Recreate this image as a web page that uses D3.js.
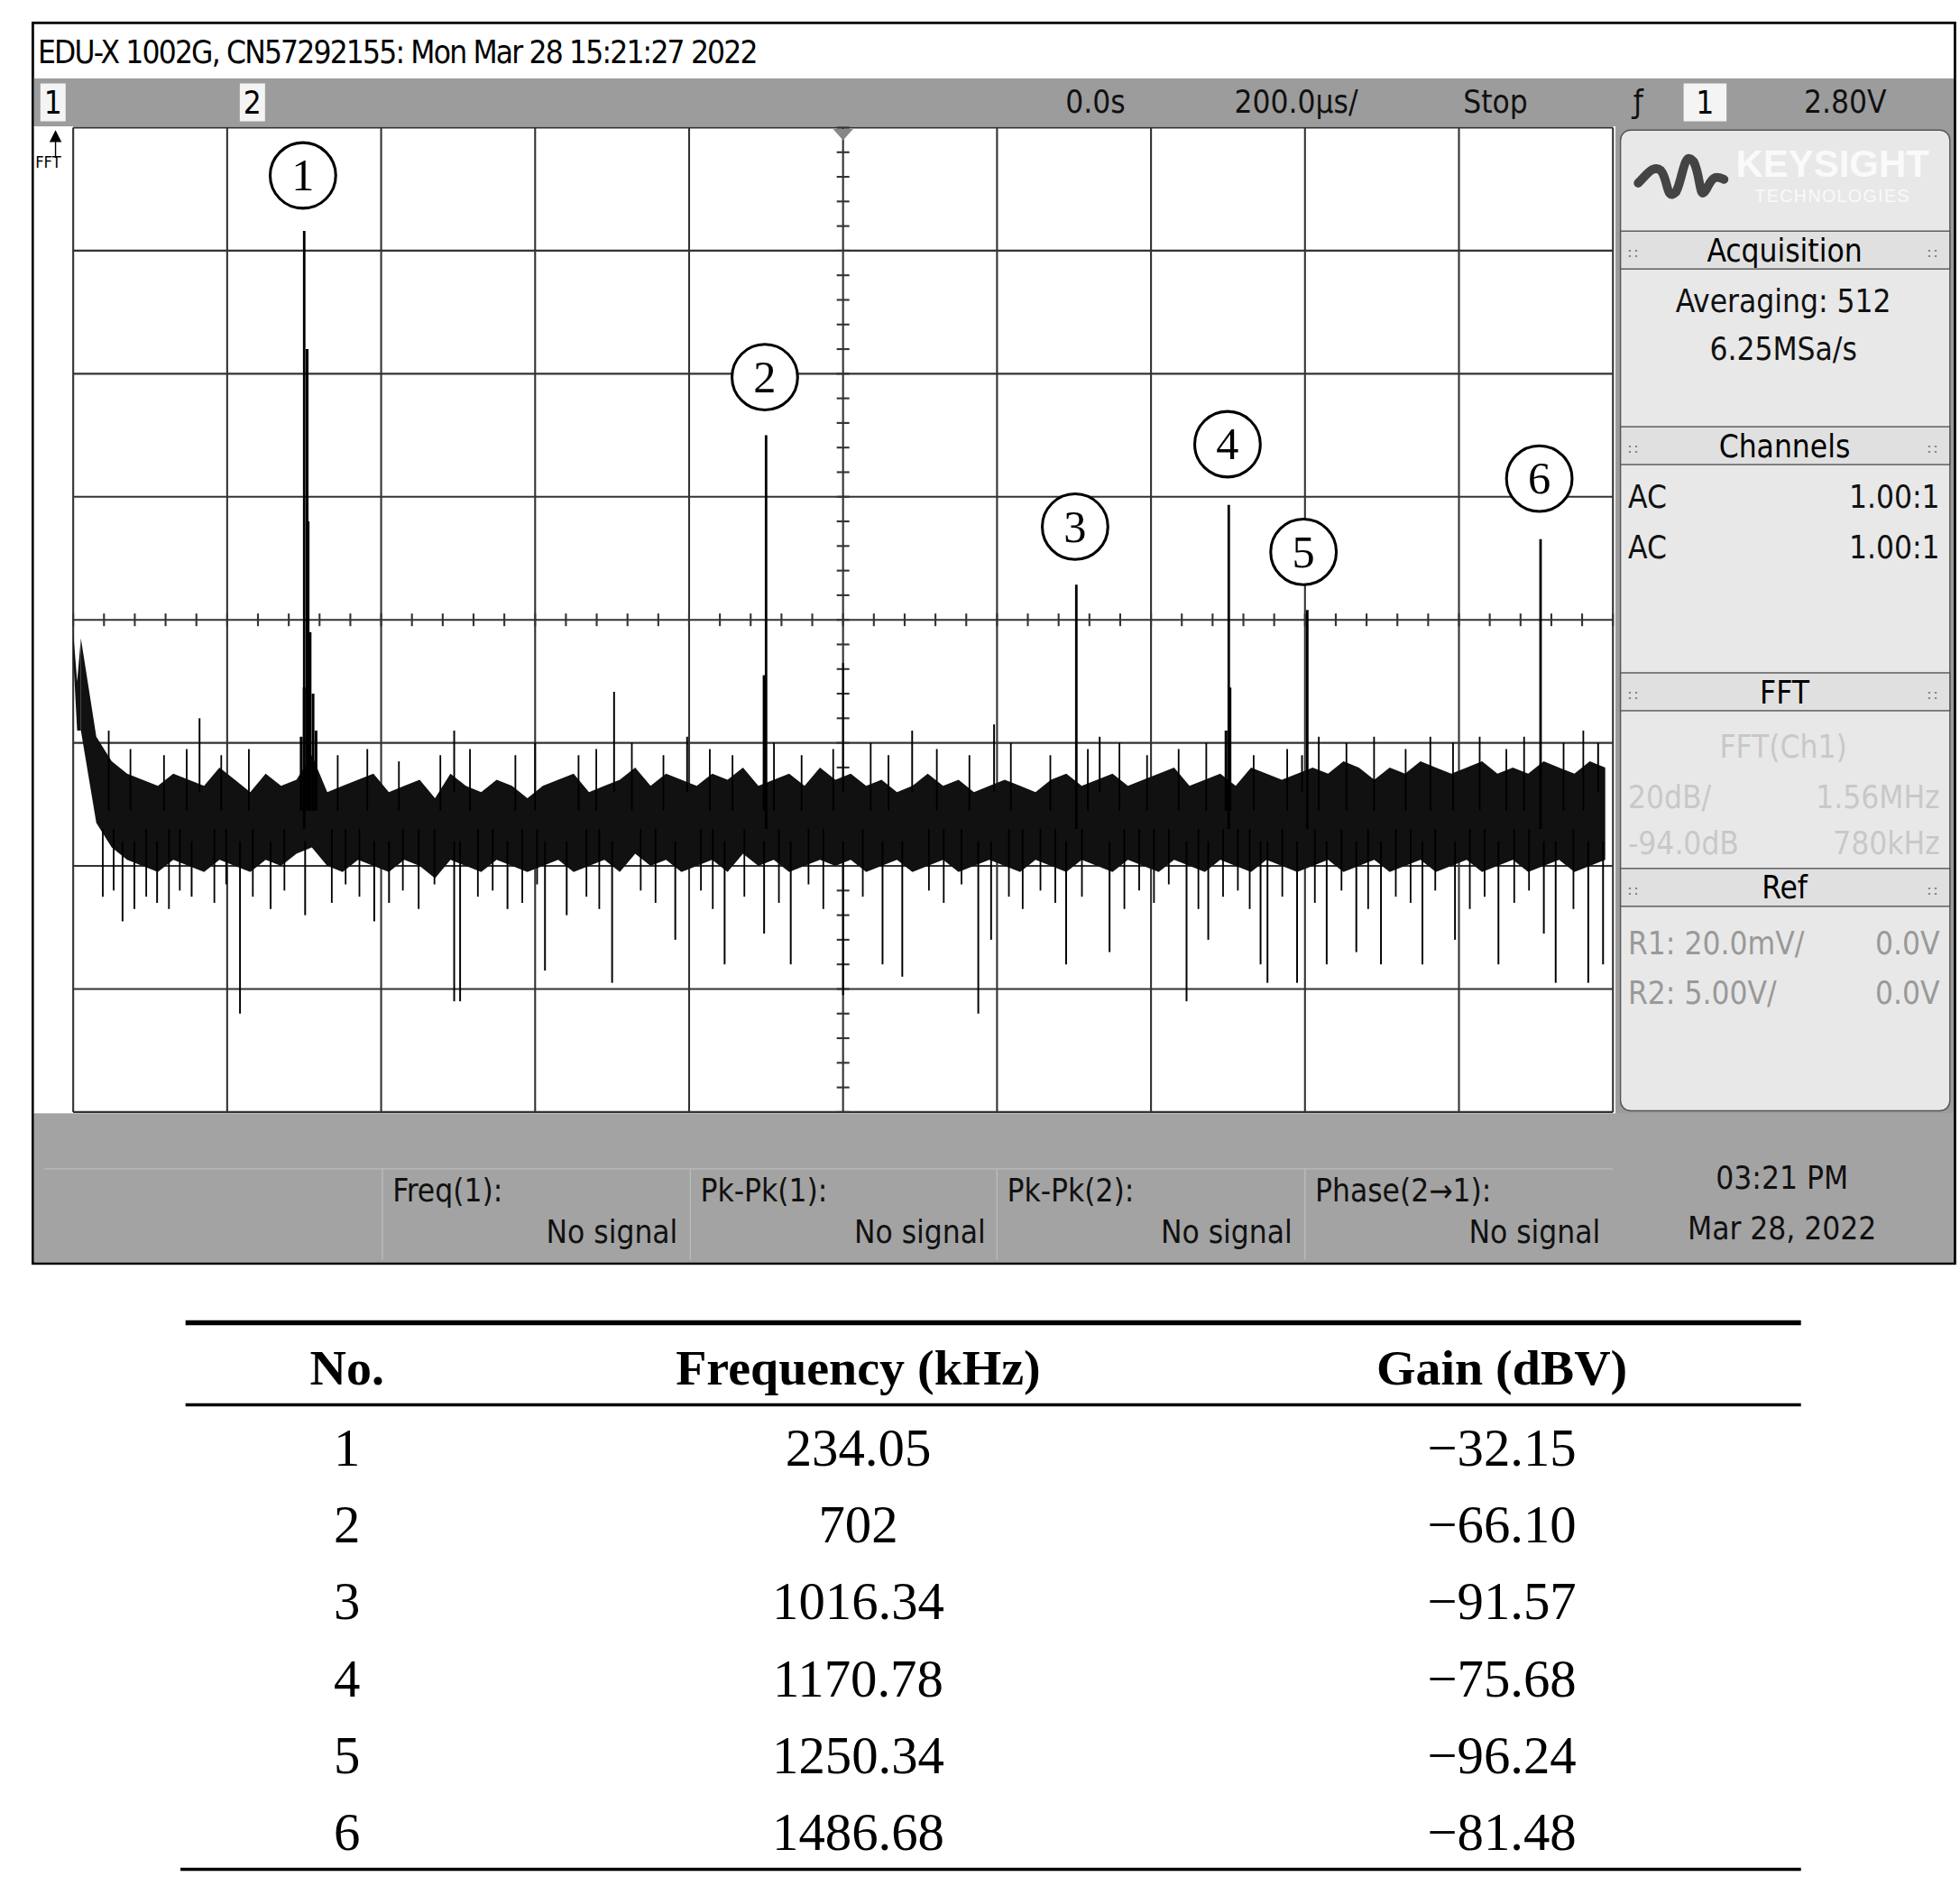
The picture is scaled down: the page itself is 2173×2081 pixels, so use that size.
<!DOCTYPE html>
<html><head><meta charset="utf-8">
<script src="https://cdn.jsdelivr.net/npm/d3@7"></script>
<style>body{margin:0;background:#fff}</style></head>
<body><svg id="c" width="2173" height="2081" viewBox="0 0 1553 1487"></svg>
<script>
// ---- data ----
const noiseHi = [-97,-113,-117,-119,-120,-121,-119,-120,-121,-118,
 -120,-122,-119,-121,-120,-116,-122,-121,-120,-119,
 -122,-121,-120,-123,-119,-121,-122,-120,-121,-123,
 -121,-120,-119,-122,-121,-120,-118,-121,-119,-120,
 -121,-119,-120,-118,-121,-120,-119,-121,-118,-120,
 -119,-121,-120,-122,-121,-119,-121,-120,-122,-121,
 -120,-121,-122,-120,-119,-121,-120,-119,-121,-120,
 -119,-118,-121,-120,-119,-121,-118,-119,-120,-119,
 -118,-119,-117,-118,-120,-118,-119,-117,-118,-119,
 -118,-117,-119,-118,-119,-117,-118,-119,-117,-118];
const noiseLo = [-112,-127,-131,-133,-134,-135,-133,-134,-135,-133,
 -134,-135,-133,-134,-132,-131,-134,-135,-133,-134,
 -135,-133,-134,-136,-133,-134,-135,-133,-134,-135,
 -134,-133,-135,-134,-133,-135,-132,-134,-133,-135,
 -134,-133,-135,-132,-134,-133,-135,-134,-133,-134,
 -133,-135,-134,-133,-135,-134,-133,-135,-134,-133,
 -134,-135,-133,-134,-135,-133,-134,-135,-133,-134,
 -135,-133,-134,-135,-133,-134,-135,-133,-134,-135,
 -134,-133,-135,-134,-133,-135,-134,-133,-135,-134,
 -133,-135,-134,-133,-135,-134,-133,-135,-134,-133];
const binKHz = 15.6;
// individual trace spikes [kHz, dB]
const spikesDown = [[50,-143],[62,-141],[85,-140],[120,-139],[169,-158],[200,-141],[235,-142],[305,-143],[320,-140],[386,-156],[392,-156],[440,-141],[478,-151],[500,-142],[546,-153],[610,-146],[660,-150],[700,-145],[727,-150],[780,-155],[820,-150],[840,-152],[917,-158],[930,-146],[1006,-150],[1050,-148],[1128,-156],[1150,-146],[1203,-150],[1210,-153],[1240,-153],[1270,-150],[1300,-148],[1325,-150],[1367,-150],[1400,-146],[1444,-150],[1490,-145],[1502,-153],[1535,-153],[1550,-150]];
const spikesUp = [[128,-110],[386,-112],[548,-105.7],[622,-113],[780,-101],[850,-112],[933,-111],[1040,-113],[1245,-116],[1545,-114]];
const fuzzDown = [[30,-139],[41,-138],[74,-139],[97,-141],[108,-138],[143,-140],[155,-137],[182,-139],[214,-138],[262,-140],[276,-137],[290,-139],[334,-138],[350,-141],[366,-137],[410,-139],[425,-138],[455,-140],[470,-137],[520,-139],[533,-141],[575,-138],[590,-140],[636,-138],[648,-141],[680,-139],[715,-140],[745,-137],[760,-141],[800,-139],[867,-138],[882,-140],[900,-137],[948,-139],[962,-141],[980,-138],[995,-140],[1022,-139],[1065,-141],[1080,-138],[1095,-140],[1110,-137],[1140,-141],[1165,-139],[1180,-138],[1192,-141],[1225,-139],[1258,-140],[1285,-138],[1312,-141],[1340,-139],[1355,-140],[1380,-138],[1415,-141],[1430,-139],[1460,-140],[1475,-138],[1520,-141]];
const fuzzUp = [[36,-112],[58,-115],[92,-116],[115,-115],[150,-116],[178,-115],[268,-116],[298,-115],[330,-117],[372,-116],[402,-115],[448,-116],[468,-114],[512,-116],[530,-115],[566,-114],[598,-116],[645,-115],[668,-116],[710,-114],[738,-116],[770,-115],[808,-114],[826,-116],[875,-115],[908,-116],[950,-114],[990,-116],[1028,-115],[1060,-114],[1088,-116],[1120,-115],[1148,-114],[1196,-116],[1230,-115],[1262,-113],[1290,-114],[1318,-113],[1350,-115],[1375,-113],[1398,-114],[1425,-113],[1452,-115],[1470,-113],[1510,-114],[1530,-112]];
const peakFreq = [234.05, 702, 1016.34, 1170.78, 1250.34, 1486.68];
const peakDraw = [-30.8, -64, -88.3, -75.3, -92.4, -80.9];
const peakGain = [-32.15, -66.10, -91.57, -75.68, -96.24, -81.48];
const skirt = [[231,-113],[234,-105],[237,-50],[238,-78],[240,-96],[243,-106],[246,-112],[700,-103],[1168,-112],[1172,-105]];
const tableNo = ["1","2","3","4","5","6"];
const tableFreq = ["234.05","702","1016.34","1170.78","1250.34","1486.68"];
const tableGain = ["\u221232.15","\u221266.10","\u221291.57","\u221275.68","\u221296.24","\u221281.48"];
const meas = [["Freq(1):","No signal"],["Pk-Pk(1):","No signal"],["Pk-Pk(2):","No signal"],["Phase(2\u21921):","No signal"]];

// ---- drawing ----
const svg = d3.select("#c");
const F = "'DejaVu Sans Condensed','Liberation Sans Narrow',sans-serif";
const S = "'Liberation Serif','Times New Roman',serif";
const x = d3.scaleLinear().domain([0,1560]).range([58,1278]);
const y = d3.scaleLinear().domain([-14,-174]).range([101,881]);

svg.append("rect").attr("x",26).attr("y",18).attr("width",1523).attr("height",983).attr("fill","#fff").attr("stroke","#000").attr("stroke-width",2);
svg.append("text").attr("x",30).attr("y",50).attr("font-family",F).attr("font-size",25).attr("letter-spacing",-1.3).text("EDU-X 1002G, CN57292155: Mon Mar 28 15:21:27 2022");
svg.append("rect").attr("x",27).attr("y",62).attr("width",1521).attr("height",40).attr("fill","#9c9c9c");
svg.append("rect").attr("x",27).attr("y",881).attr("width",1521).attr("height",119).attr("fill","#a3a3a3");
svg.append("rect").attr("x",27).attr("y",100).attr("width",1253).attr("height",782).attr("fill","#fff");
// top bar
[[32,"1"],[190,"2"]].forEach(d=>{svg.append("rect").attr("x",d[0]).attr("y",66).attr("width",20).attr("height",30).attr("fill","#f4f4f4");
 svg.append("text").attr("x",d[0]+10).attr("y",90).attr("text-anchor","middle").attr("font-family",F).attr("font-size",25).text(d[1]);});
svg.append("rect").attr("x",1334).attr("y",66).attr("width",34).attr("height",30).attr("fill","#f4f4f4");
svg.append("text").attr("x",1351).attr("y",90).attr("text-anchor","middle").attr("font-family",F).attr("font-size",25).text("1");
[[868,"0.0s"],[1027,"200.0\u00b5s/"],[1185,"Stop"],[1298,"\u0192"],[1462,"2.80V"]].forEach(d=>svg.append("text").attr("x",d[0]).attr("y",89).attr("text-anchor","middle").attr("font-family",F).attr("font-size",25).attr("fill","#111").text(d[1]));

// grid
const g = svg.append("g");
d3.range(0,1561,156).forEach(v=>g.append("line").attr("x1",x(v)).attr("x2",x(v)).attr("y1",101).attr("y2",881).attr("stroke","#333").attr("stroke-width",1.5));
d3.range(-14,-175,-20).forEach(v=>g.append("line").attr("x1",58).attr("x2",1278).attr("y1",y(v)).attr("y2",y(v)).attr("stroke","#333").attr("stroke-width",1.5));
d3.range(0,1561,31.2).forEach(v=>g.append("line").attr("x1",x(v)).attr("x2",x(v)).attr("y1",y(-94)-5).attr("y2",y(-94)+5).attr("stroke","#333").attr("stroke-width",1.5));
d3.range(-14,-175,-4).forEach(v=>g.append("line").attr("x1",668-5).attr("x2",668+5).attr("y1",y(v)).attr("y2",y(v)).attr("stroke","#333").attr("stroke-width",1.5));
g.append("path").attr("d","M660,102 L676,102 L668,111 Z").attr("fill","#888");
g.append("text").attr("x",28).attr("y",133).attr("font-family",F).attr("font-size",13).text("FFT");
g.append("path").attr("d","M44,104 L40,112 L48,112 Z M44,112 L44,125").attr("stroke","#000").attr("fill","#000");

// noise band
const bins = noiseHi.map((h,i)=>({f:i*binKHz+binKHz/2, h, l:noiseLo[i]}));
svg.append("path").datum(bins).attr("d",d3.area().x(d=>x(d.f)).y0(d=>y(d.l)).y1(d=>y(d.h)).curve(d3.curveLinear)).attr("fill","#111");
svg.append("path").datum([{f:0,h:-96,l:-100},{f:4,h:-104,l:-112},{f:binKHz/2,h:noiseHi[0],l:noiseLo[0]}]).attr("d",d3.area().x(d=>x(d.f)).y0(d=>y(d.l)).y1(d=>y(d.h))).attr("fill","#111");
const tr = svg.append("g").attr("stroke","#000");
fuzzDown.forEach(d=>tr.append("line").attr("x1",x(d[0])).attr("x2",x(d[0])).attr("y1",y(-128)).attr("y2",y(d[1])).attr("stroke-width",1.3));
fuzzUp.forEach(d=>tr.append("line").attr("x1",x(d[0])).attr("x2",x(d[0])).attr("y1",y(-125)).attr("y2",y(d[1])).attr("stroke-width",1.3));
spikesDown.forEach(d=>tr.append("line").attr("x1",x(d[0])).attr("x2",x(d[0])).attr("y1",y(-130)).attr("y2",y(d[1])).attr("stroke-width",1.4));
spikesUp.forEach(d=>tr.append("line").attr("x1",x(d[0])).attr("x2",x(d[0])).attr("y1",y(-122)).attr("y2",y(d[1])).attr("stroke-width",1.4));
skirt.forEach(d=>tr.append("line").attr("x1",x(d[0])).attr("x2",x(d[0])).attr("y1",y(-125)).attr("y2",y(d[1])).attr("stroke-width",2.2));
peakFreq.forEach((f,i)=>tr.append("line").attr("x1",x(f)).attr("x2",x(f)).attr("y1",y(-128)).attr("y2",y(peakDraw[i])).attr("stroke-width",2));

// circled labels
const lab = [[0,-9],[0,-11],[0,-11],[0,-13],[-2,-11],[0,-13]];
peakFreq.forEach((f,i)=>{
  const cx = x(f)-1+lab[i][0], cy = y(peakDraw[i])-35+lab[i][1];
  svg.append("circle").attr("cx",cx).attr("cy",cy).attr("r",26).attr("fill","#fff").attr("stroke","#000").attr("stroke-width",2.2);
  svg.append("text").attr("x",cx).attr("y",cy+12).attr("text-anchor","middle").attr("font-family",S).attr("font-size",36).text(i+1);
});

// right panel
svg.append("rect").attr("x",1280).attr("y",100).attr("width",268).attr("height",782).attr("fill","#9c9c9c");
svg.append("rect").attr("x",1284).attr("y",103).attr("width",261).attr("height",777).attr("rx",8).attr("fill","#e8e8e8").attr("stroke","#555");
svg.append("path").attr("d","M1298,145 C1305,138 1310,130 1316,135 C1322,142 1320,160 1328,152 C1334,140 1334,118 1342,128 C1348,140 1346,160 1352,150 C1356,142 1358,138 1366,142").attr("fill","none").attr("stroke","#444").attr("stroke-width",7).attr("stroke-linecap","round");
svg.append("text").attr("x",1452).attr("y",140).attr("text-anchor","middle").attr("font-family","'Liberation Sans',Arial").attr("font-size",30).attr("font-weight","bold").attr("fill","#fafafa").text("KEYSIGHT");
svg.append("text").attr("x",1452).attr("y",160).attr("text-anchor","middle").attr("font-family","'Liberation Sans',Arial").attr("font-size",14).attr("fill","#fafafa").attr("letter-spacing",1).text("TECHNOLOGIES");
[[183,"Acquisition"],[338,"Channels"],[533,"FFT"],[688,"Ref"]].forEach(d=>{
  svg.append("rect").attr("x",1284).attr("y",d[0]).attr("width",261).attr("height",30).attr("fill","#e0e0e0").attr("stroke","#555");
  svg.append("text").attr("x",1414).attr("y",d[0]+24).attr("text-anchor","middle").attr("font-family",F).attr("font-size",25).text(d[1]);
  svg.append("text").attr("x",1294).attr("y",d[0]+22).attr("text-anchor","middle").attr("font-size",12).attr("fill","#777").text("\u2237");
  svg.append("text").attr("x",1531).attr("y",d[0]+22).attr("text-anchor","middle").attr("font-size",12).attr("fill","#777").text("\u2237");
});
const pt=(t,xx,yy,a,c)=>svg.append("text").attr("x",xx).attr("y",yy).attr("text-anchor",a).attr("font-family",F).attr("font-size",25).attr("fill",c||"#111").text(t);
pt("Averaging: 512",1413,247,"middle");pt("6.25MSa/s",1413,285,"middle");
pt("AC",1290,402,"start");pt("1.00:1",1537,402,"end");pt("AC",1290,442,"start");pt("1.00:1",1537,442,"end");
pt("FFT(Ch1)",1413,600,"middle","#c8c8c8");pt("20dB/",1290,640,"start","#c8c8c8");pt("1.56MHz",1537,640,"end","#c8c8c8");
pt("-94.0dB",1290,677,"start","#c8c8c8");pt("780kHz",1537,677,"end","#c8c8c8");
pt("R1: 20.0mV/",1290,756,"start","#999");pt("0.0V",1537,756,"end","#999");
pt("R2:  5.00V/",1290,795,"start","#999");pt("0.0V",1537,795,"end","#999");

// measurement row
svg.append("line").attr("x1",35).attr("x2",1278).attr("y1",926).attr("y2",926).attr("stroke","#bbb");
[303,547,790,1034].forEach(v=>svg.append("line").attr("x1",v).attr("x2",v).attr("y1",926).attr("y2",998).attr("stroke","#bbb"));
meas.forEach((m,i)=>{const x0=[303,547,790,1034][i];pt(m[0],x0+8,952,"start");pt(m[1],x0+234,985,"end");});
pt("03:21 PM",1412,942,"middle");pt("Mar 28, 2022",1412,982,"middle");

// table
svg.append("line").attr("x1",147).attr("x2",1427).attr("y1",1048).attr("y2",1048).attr("stroke","#000").attr("stroke-width",4);
svg.append("line").attr("x1",147).attr("x2",1427).attr("y1",1113).attr("y2",1113).attr("stroke","#000").attr("stroke-width",2.5);
svg.append("line").attr("x1",143).attr("x2",1427).attr("y1",1481).attr("y2",1481).attr("stroke","#000").attr("stroke-width",2.5);
const cols=[275,680,1190];
["No.","Frequency (kHz)","Gain (dBV)"].forEach((h,i)=>svg.append("text").attr("x",cols[i]).attr("y",1097).attr("text-anchor","middle").attr("font-family",S).attr("font-weight","bold").attr("font-size",40).text(h));
tableNo.forEach((n,r)=>{[n,tableFreq[r],tableGain[r]].forEach((t,i)=>svg.append("text").attr("x",cols[i]).attr("y",1161+r*61).attr("text-anchor","middle").attr("font-family",S).attr("font-size",42).text(t));});
</script></body></html>
